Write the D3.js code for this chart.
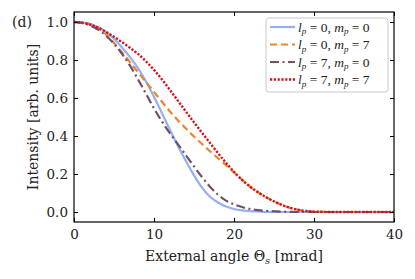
<!DOCTYPE html>
<html>
<head>
<meta charset="utf-8">
<script src="https://cdn.jsdelivr.net/npm/d3@7"></script>
<style>
  body { margin: 0; background: #fff; }
  svg text { font-family: "DejaVu Serif", serif; fill: #222; }
</style>
</head>
<body>
<div id="chart"></div>
<script>
// angle grid [mrad]
const theta = d3.range(0, 41);

// lp = 0, mp = 0
const i_00 = [1.0, 0.998, 0.99, 0.973, 0.948, 0.912, 0.866, 0.815, 0.757, 0.687,
  0.607, 0.52, 0.432, 0.347, 0.267, 0.193, 0.128, 0.08, 0.05, 0.029,
  0.016, 0.009, 0.005, 0.003, 0.001, 0, 0, 0, 0, 0,
  0, 0, 0, 0, 0, 0, 0, 0, 0, 0, 0];
// lp = 0, mp = 7
const i_07 = [1.0, 0.997, 0.988, 0.97, 0.935, 0.89, 0.84, 0.788, 0.736, 0.684,
  0.632, 0.58, 0.529, 0.482, 0.439, 0.397, 0.358, 0.32, 0.283, 0.246,
  0.209, 0.17, 0.134, 0.104, 0.078, 0.056, 0.037, 0.022, 0.012, 0.005,
  0.002, 0.001, 0, 0, 0, 0, 0, 0, 0, 0, 0];
// lp = 7, mp = 0
const i_70 = [1.0, 0.995, 0.982, 0.96, 0.928, 0.885, 0.832, 0.77, 0.698, 0.622,
  0.545, 0.476, 0.414, 0.356, 0.298, 0.24, 0.184, 0.133, 0.091, 0.06,
  0.04, 0.026, 0.016, 0.01, 0.006, 0.004, 0.002, 0.001, 0, 0,
  0, 0, 0, 0, 0, 0, 0, 0, 0, 0, 0];
// lp = 7, mp = 7
const i_77 = [1.0, 0.996, 0.986, 0.97, 0.948, 0.922, 0.894, 0.864, 0.832, 0.793,
  0.748, 0.697, 0.642, 0.585, 0.528, 0.472, 0.417, 0.363, 0.31, 0.259,
  0.211, 0.169, 0.134, 0.104, 0.078, 0.056, 0.037, 0.022, 0.012, 0.005,
  0.002, 0.001, 0, 0, 0, 0, 0, 0, 0, 0, 0];

const x_ticks = [0, 10, 20, 30, 40];
const y_ticks = [0.0, 0.2, 0.4, 0.6, 0.8, 1.0];

const series = [
  {name: ["0", "0"], values: i_00, color: "#95aff4", dash: null, lw: 2.2},
  {name: ["0", "7"], values: i_07, color: "#e8862b", dash: "7,4", lw: 2.2},
  {name: ["7", "0"], values: i_70, color: "#714f6e", dash: "9,3.5,2,3.5", lw: 2.2},
  {name: ["7", "7"], values: i_77, color: "#d0141a", dash: "2.2,1.6", lw: 2.4}
];

const width = 415, height = 279;
const margin = {top: 12, right: 21, bottom: 57, left: 74};
const w = width - margin.left - margin.right;
const h = height - margin.top - margin.bottom;

const svg = d3.select("#chart").append("svg")
  .attr("width", width)
  .attr("height", height);

const x_scale = d3.scaleLinear().domain([0, 40]).range([0, w]);
const y_scale = d3.scaleLinear().domain([-0.0526, 1.0526]).range([h, 0]);

const g = svg.append("g")
  .attr("transform", "translate(" + margin.left + "," + margin.top + ")");

// curves
const line = (vals) => d3.line()
  .x((d, i) => x_scale(theta[i]))
  .y((d) => y_scale(d))
  .curve(d3.curveMonotoneX)(vals);

g.append("clipPath").attr("id", "clip")
  .append("rect").attr("width", w).attr("height", h);

const curves = g.append("g").attr("clip-path", "url(#clip)");
series.forEach((s) => {
  curves.append("path")
    .attr("d", line(s.values))
    .style("fill", "none")
    .style("stroke", s.color)
    .style("stroke-width", s.lw)
    .style("stroke-dasharray", s.dash);
});

// axes, ticks pointing inward on all sides
const fmt = d3.format(".1f");
const ax_b = g.append("g").attr("transform", "translate(0," + h + ")")
  .call(d3.axisBottom(x_scale).tickValues(x_ticks).tickSizeInner(-4).tickSizeOuter(0).tickPadding(7));
const ax_t = g.append("g")
  .call(d3.axisTop(x_scale).tickValues(x_ticks).tickSizeInner(-4).tickSizeOuter(0).tickFormat(""));
const ax_l = g.append("g")
  .call(d3.axisLeft(y_scale).tickValues(y_ticks).tickSizeInner(-4).tickSizeOuter(0).tickPadding(6).tickFormat(fmt));
const ax_r = g.append("g").attr("transform", "translate(" + w + ",0)")
  .call(d3.axisRight(y_scale).tickValues(y_ticks).tickSizeInner(-4).tickSizeOuter(0).tickFormat(""));

[ax_b, ax_t, ax_l, ax_r].forEach((a) => {
  a.select(".domain").remove();
  a.selectAll(".tick line").style("stroke", "#000").style("stroke-width", 1);
  a.selectAll("text").style("font-size", "13.5px").style("font-family", "'DejaVu Serif', serif").style("fill", "#222");
});

g.append("rect")
  .attr("width", w).attr("height", h)
  .style("fill", "none").style("stroke", "#000").style("stroke-width", 1.2);

// axis titles
const xl = svg.append("text")
  .attr("x", margin.left + w / 2).attr("y", 261)
  .attr("text-anchor", "middle")
  .style("font-size", "14px");
xl.append("tspan").text("External angle Θ");
xl.append("tspan").attr("dy", 3).style("font-size", "10px").style("font-style", "italic").text("s");
xl.append("tspan").attr("dy", -3).text(" [mrad]");

svg.append("text")
  .attr("transform", "translate(38," + (margin.top + h / 2) + ") rotate(-90)")
  .attr("text-anchor", "middle")
  .style("font-size", "14px")
  .text("Intensity [arb. units]");

svg.append("text")
  .attr("x", 12).attr("y", 27)
  .style("font-size", "14px")
  .text("(d)");

// legend
const leg = svg.append("g");
leg.append("rect")
  .attr("x", 266).attr("y", 18).attr("width", 122).attr("height", 74)
  .attr("rx", 2.5)
  .style("fill", "#fff").style("fill-opacity", 0.85)
  .style("stroke", "#c8c8c8").style("stroke-width", 1);

series.forEach((s, i) => {
  const y = 27 + i * 17.5;
  leg.append("line")
    .attr("x1", 270).attr("x2", 295).attr("y1", y).attr("y2", y)
    .style("stroke", s.color)
    .style("stroke-width", s.lw)
    .style("stroke-dasharray", s.dash);
  const t = leg.append("text")
    .attr("x", 298).attr("y", y + 4.5)
    .style("font-family", "'Liberation Serif', serif")
    .style("font-size", "13.5px");
  t.append("tspan").style("font-style", "italic").text("l");
  t.append("tspan").attr("dy", 2.5).style("font-size", "9px").style("font-style", "italic").text("p");
  t.append("tspan").attr("dy", -2.5).text(" = " + s.name[0] + ", ");
  t.append("tspan").style("font-style", "italic").text("m");
  t.append("tspan").attr("dy", 2.5).style("font-size", "9px").style("font-style", "italic").text("p");
  t.append("tspan").attr("dy", -2.5).text(" = " + s.name[1]);
});
</script>
</body>
</html>
